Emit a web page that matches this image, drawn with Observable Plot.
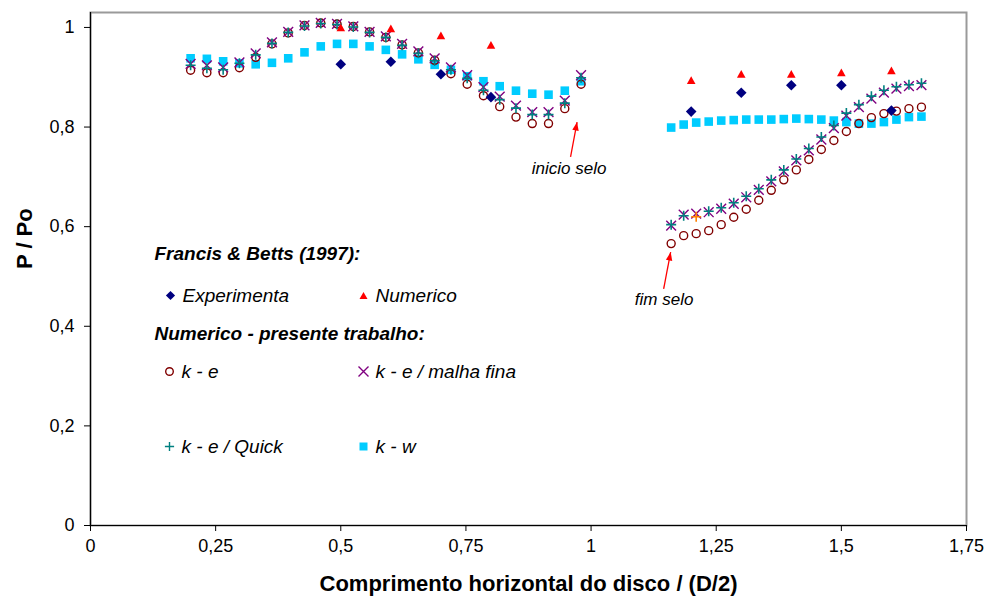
<!DOCTYPE html>
<html><head><meta charset="utf-8">
<script src="https://cdn.jsdelivr.net/npm/d3@7"></script>
<script src="https://cdn.jsdelivr.net/npm/@observablehq/plot@0.6"></script>
<style>
body{margin:0;background:#fff;}
#chart svg{display:block;}
</style></head><body><div id="chart"></div>
<script>
// ---- data ----
const xLeft  = [0.200,0.2325,0.265,0.2975,0.330,0.3625,0.395,0.4275,0.460,0.4925,0.525,0.5575,0.590,0.6225,0.655,0.6875,0.720,0.7525,0.785,0.8175,0.850,0.8825,0.915,0.9475,0.980];
const kwLeft    = [0.938,0.937,0.932,0.928,0.926,0.929,0.938,0.950,0.962,0.967,0.967,0.962,0.955,0.946,0.936,0.925,0.915,0.902,0.892,0.882,0.873,0.867,0.865,0.873,0.892];
const keLeft    = [0.914,0.909,0.909,0.919,0.940,0.967,0.989,1.004,1.009,1.007,1.002,0.991,0.980,0.965,0.949,0.934,0.907,0.886,0.863,0.841,0.820,0.807,0.807,0.837,0.886];
const fineLeft  = [0.927,0.924,0.920,0.930,0.948,0.970,0.991,1.004,1.009,1.007,1.002,0.991,0.982,0.967,0.952,0.938,0.920,0.904,0.880,0.861,0.843,0.830,0.830,0.853,0.904];
const quickLeft = [0.924,0.918,0.915,0.928,0.945,0.968,0.990,1.003,1.008,1.006,1.001,0.990,0.980,0.964,0.948,0.933,0.915,0.898,0.874,0.855,0.838,0.825,0.825,0.848,0.899];

const xRight = [1.160,1.185,1.210,1.235,1.260,1.285,1.310,1.335,1.360,1.385,1.410,1.435,1.460,1.485,1.510,1.535,1.560,1.585,1.610,1.635,1.660];
const kwRight    = [0.799,0.805,0.809,0.811,0.813,0.814,0.815,0.815,0.815,0.816,0.817,0.816,0.815,0.813,0.810,0.807,0.807,0.810,0.815,0.820,0.821];
const keRight    = [0.566,0.582,0.586,0.592,0.604,0.619,0.635,0.653,0.673,0.694,0.714,0.735,0.755,0.773,0.791,0.807,0.819,0.827,0.832,0.837,0.840];
const fineRight  = [0.602,0.624,0.626,0.629,0.636,0.646,0.659,0.674,0.691,0.711,0.733,0.753,0.775,0.798,0.823,0.840,0.857,0.869,0.877,0.882,0.884];
const quickRight = [0.604,0.622,0.620,0.631,0.638,0.648,0.661,0.676,0.694,0.714,0.736,0.757,0.780,0.803,0.828,0.845,0.862,0.874,0.881,0.885,0.888];
const quickOddIndex = 2; // the one "+" drawn in orange

const expX = [0.5,0.6,0.7,0.8,1.2,1.3,1.4,1.5,1.6];
const expY = [0.926,0.931,0.906,0.860,0.831,0.869,0.884,0.884,0.833];
const numX = [0.5,0.6,0.7,0.8,1.2,1.3,1.4,1.5,1.6];
const numY = [1.000,0.998,0.984,0.965,0.894,0.907,0.907,0.910,0.914];

const xTicks = [0,0.25,0.5,0.75,1,1.25,1.5,1.75];
const yTicks = [0,0.2,0.4,0.6,0.8,1];

const noteText  = ["inicio selo","fim selo"];
const noteTextX = [0.956,1.146];
const noteTextY = [0.716,0.453];
const noteTailX = [0.959,1.145];
const noteTailY = [0.740,0.475];
const noteTipX  = [0.972,1.159];
const noteTipY  = [0.810,0.549];

const legendHeaders = ["Francis & Betts (1997):","Numerico - presente trabalho:"];
const legendSeries  = ["Experimenta","Numerico","k - e","k - e / malha fina","k - e / Quick","k - w"];

// ---- styling / layout ----
const W=986, H=598, mL=90, mR=20, mT=12, mB=73;
const xMax=1.75, yMax=1.03;
const C = {exp:"#000080", num:"#FF0000", ke:"#800000", fine:"#800080", quick:"#008080", odd:"#FF8000", kw:"#00CCFF"};
const FONT = "Arial, 'Liberation Sans', sans-serif";
const comma = d => String(d).replace(".", ",");

const rad = s => Math.sqrt(s/Math.PI);
const S = {
  square:  {draw(c,s){const r=rad(s); c.rect(-r,-r,2*r,2*r);}},
  diamond: {draw(c,s){const r=rad(s); c.moveTo(0,-r); c.lineTo(r,0); c.lineTo(0,r); c.lineTo(-r,0); c.closePath();}},
  triangle:{draw(c,s){const r=rad(s), h=r*0.9; c.moveTo(0,-h); c.lineTo(r,h); c.lineTo(-r,h); c.closePath();}},
  circle:  {draw(c,s){const r=rad(s); c.moveTo(r,0); c.arc(0,0,r,0,2*Math.PI);}},
  times:   {draw(c,s){const r=rad(s); c.moveTo(-r,-r); c.lineTo(r,r); c.moveTo(r,-r); c.lineTo(-r,r);}},
  plus:    {draw(c,s){const r=rad(s); c.moveTo(-r,0); c.lineTo(r,0); c.moveTo(0,-r); c.lineTo(0,r);}},
  head:    {draw(c,s){const r=rad(s); c.moveTo(0,0); c.lineTo(r*0.38,r); c.lineTo(-r*0.38,r); c.closePath();}}
};

const tbl = (xs, ys) => xs.map((x,i)=>({x, y: ys[i], i}));
const kw    = tbl(xLeft,kwLeft).concat(tbl(xRight,kwRight));
const ke    = tbl(xLeft,keLeft).concat(tbl(xRight,keRight));
const fine  = tbl(xLeft,fineLeft).concat(tbl(xRight,fineRight));
const quick = tbl(xLeft,quickLeft).map(d=>({...d,odd:false}))
  .concat(tbl(xRight,quickRight).map(d=>({...d,odd:d.i===quickOddIndex})));
const exp = tbl(expX,expY);
const num = tbl(numX,numY);

const kx = (W-mL-mR)/xMax, ky = (H-mT-mB)/yMax;
const notes = noteText.map((t,i)=>({
  t, tx:noteTextX[i], ty:noteTextY[i],
  x1:noteTailX[i], y1:noteTailY[i], x2:noteTipX[i], y2:noteTipY[i],
  ang: Math.atan2((noteTipX[i]-noteTailX[i])*kx, (noteTipY[i]-noteTailY[i])*ky)*180/Math.PI
}));

// legend layout (pixels from frame top-left)
const LH = [{dx:64, dy:241},{dx:64, dy:321}];
const LS = [
  {dx:80, dy:283, sym:S.diamond, r:4.6, fill:C.exp, stroke:"none"},
  {dx:273,dy:283, sym:S.triangle, r:4.0, fill:C.num, stroke:"none"},
  {dx:79, dy:359, sym:S.circle, r:3.8, fill:"none", stroke:C.ke},
  {dx:273,dy:359, sym:S.times, r:5.0, fill:"none", stroke:C.fine},
  {dx:79, dy:434, sym:S.plus, r:4.6, fill:"none", stroke:C.quick},
  {dx:273,dy:434, sym:S.square, r:4.0, fill:C.kw, stroke:"none"}
];

const marks = [
  Plot.frame({stroke:"#9a9a9a", strokeWidth:2}),
  Plot.ruleX([0], {stroke:"#000", strokeWidth:1.2}),
  Plot.ruleY([0], {stroke:"#000", strokeWidth:1.2}),
  Plot.axisX({ticks:xTicks, tickFormat:comma, tickSize:6, tickPadding:8, fontSize:18, label:null, stroke:"#000"}),
  Plot.axisY({ticks:yTicks, tickFormat:comma, tickSize:6, tickPadding:10, fontSize:18, label:null, stroke:"#000"}),
  // series
  Plot.dot(kw,   {x:"x", y:"y", symbol:S.square, r:4.3, fill:C.kw, stroke:"none"}),
  Plot.dot(ke,   {x:"x", y:"y", symbol:S.circle, r:4.0, fill:"none", stroke:C.ke, strokeWidth:1.4}),
  Plot.dot(fine, {x:"x", y:"y", symbol:S.times, r:4.9, fill:"none", stroke:C.fine, strokeWidth:1.4}),
  Plot.dot(quick,{x:"x", y:"y", symbol:S.plus, r:5.0, fill:"none", stroke:d=>d.odd?C.odd:C.quick, strokeWidth:1.6}),
  Plot.dot(exp,  {x:"x", y:"y", symbol:S.diamond, r:5.3, fill:C.exp, stroke:"none"}),
  Plot.dot(num,  {x:"x", y:"y", symbol:S.triangle, r:4.3, fill:C.num, stroke:"none"}),
  // annotations
  Plot.link(notes, {x1:"x1", y1:"y1", x2:"x2", y2:"y2", stroke:C.num, strokeWidth:1.3}),
  Plot.dot(notes, {x:"x2", y:"y2", symbol:S.head, r:8.5, rotate:"ang", fill:C.num, stroke:"none"}),
  Plot.text(notes, {x:"tx", y:"ty", text:"t", fontSize:17, fontStyle:"italic", fill:"#000", lineAnchor:"middle"}),
  // legend
  ...legendHeaders.map((h,i)=>Plot.text([h], {text:d=>d, frameAnchor:"top-left", dx:LH[i].dx, dy:LH[i].dy,
     textAnchor:"start", lineAnchor:"middle", fontSize:19, fontWeight:"bold", fontStyle:"italic", fill:"#000"})),
  ...legendSeries.map((s,i)=>Plot.dot([s], {frameAnchor:"top-left", dx:LS[i].dx, dy:LS[i].dy, symbol:LS[i].sym, r:LS[i].r,
     fill:LS[i].fill, stroke:LS[i].stroke, strokeWidth:1.4})),
  ...legendSeries.map((s,i)=>Plot.text([s], {text:d=>d, frameAnchor:"top-left", dx:LS[i].dx+12, dy:LS[i].dy,
     textAnchor:"start", lineAnchor:"middle", fontSize:19, fontStyle:"italic", fill:"#000"})),
  // axis titles
  Plot.text(["Comprimento horizontal do disco / (D/2)"], {text:d=>d, frameAnchor:"bottom", dy:58, lineAnchor:"middle",
     fontSize:22, fontWeight:"bold", fill:"#000"}),
  Plot.text(["P / Po"], {text:d=>d, frameAnchor:"left", dx:-66, rotate:-90, lineAnchor:"middle",
     fontSize:22, fontWeight:"bold", fill:"#000"})
];

const chart = Plot.plot({
  width:W, height:H, marginLeft:mL, marginRight:mR, marginTop:mT, marginBottom:mB,
  x:{domain:[0,xMax], label:null},
  y:{domain:[0,yMax], label:null},
  style:{fontFamily:FONT, fontSize:"18px", color:"#000", background:"#fff", overflow:"visible"},
  marks
});
document.getElementById("chart").appendChild(chart);
</script>
</body></html>
